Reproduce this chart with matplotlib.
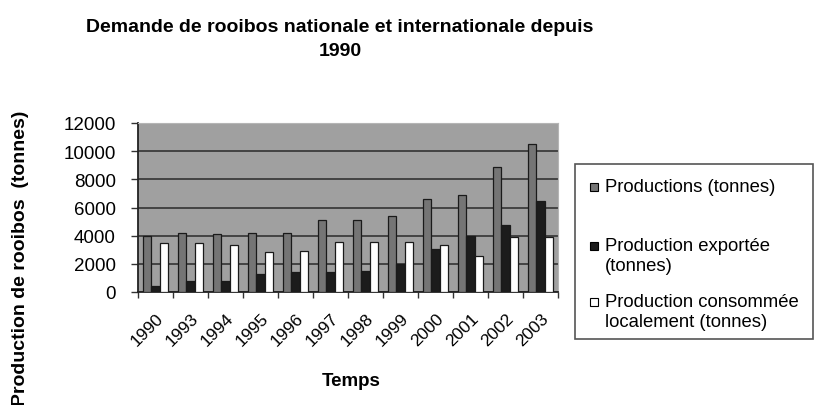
import numpy as np
import matplotlib.pyplot as plt
from matplotlib.patches import Rectangle

plt.rcParams['font.family'] = ['Liberation Sans', 'DejaVu Sans']

annees = ["1990", "1993", "1994", "1995", "1996", "1997", "1998", "1999",
          "2000", "2001", "2002", "2003"]
productions = [4000, 4170, 4130, 4170, 4170, 5110, 5110, 5420, 6600, 6890, 8850, 10510]
exportee = [450, 800, 800, 1280, 1440, 1440, 1510, 1990, 3050, 4000, 4760, 6480]
locale = [3480, 3480, 3360, 2820, 2940, 3570, 3570, 3570, 3360, 2580, 3930, 3930]

series_labels = ["Productions (tonnes)", "Production exportée\n(tonnes)",
                 "Production consommée\nlocalement (tonnes)"]
series_colors = ["#757575", "#1c1c1c", "white"]

W, H = 814, 406


def fx(px):
    return px / W


def fy(py):
    return 1 - py / H


fig = plt.figure(figsize=(8.14, 4.06), dpi=100)
ax = fig.add_axes([fx(138), fy(293), 420 / W, 169 / H])
ax.set_facecolor("#a0a0a0")

x = np.arange(len(annees))
w = 0.23
for i, vals in enumerate([productions, exportee, locale]):
    ax.bar(x + (i - 1) * w, vals, w, color=series_colors[i], edgecolor="#1a1a1a",
           linewidth=0.9, zorder=3)

ax.set_xlim(-0.5, len(annees) - 0.5)
ax.set_ylim(0, 12000)
ax.set_yticks(range(0, 12001, 2000))
ax.yaxis.grid(True, color="#333333", linewidth=1.2, zorder=1)
ax.set_axisbelow(True)
ax.yaxis.get_gridlines()[-1].set_visible(False)

ax.set_xticks(x)
ax.set_xticklabels(annees, rotation=45, ha="right", rotation_mode="anchor", fontsize=12.5)
ax.tick_params(axis="x", length=0, pad=13)
ax.set_xticks(np.arange(-0.5, len(annees)), minor=True)
ax.tick_params(axis="x", which="minor", length=4, width=1, color="#333333")
ax.tick_params(axis="y", labelsize=13.5, length=5, width=1, pad=11, color="#333333")

for s in ["top", "right"]:
    ax.spines[s].set_color("#b5b5b5")
for s in ["left", "bottom"]:
    ax.spines[s].set_color("#222222")
    ax.spines[s].set_linewidth(1.3)

fig.text(fx(351), fy(382), "Temps", fontsize=13.5, fontweight="bold",
         ha="center", va="center")
fig.text(fx(21), fy(258), "Production de rooibos  (tonnes)", rotation=90, fontsize=14,
         fontweight="bold", ha="center", va="center")

fig.text(fx(340), fy(27), "Demande de rooibos nationale et internationale depuis",
         fontsize=14, fontweight="bold", ha="center", va="center")
fig.text(fx(340), fy(52), "1990", fontsize=14, fontweight="bold", ha="center", va="center")

# legend box drawn by hand so the markers sit on the first text line
fig.patches.append(Rectangle((fx(575), fy(340)), fx(813) - fx(575), fy(165) - fy(340),
                             transform=fig.transFigure, facecolor="white",
                             edgecolor="#555555", linewidth=1.2))
rows = [188, 247, 303]
for lab, col, y in zip(series_labels, series_colors, rows):
    fig.patches.append(Rectangle((fx(590), fy(y + 4)), 8 / W, 8 / H,
                                 transform=fig.transFigure, facecolor=col,
                                 edgecolor="black", linewidth=0.8))
    fig.text(fx(605), fy(y - 9), lab, fontsize=13.3, ha="left", va="top",
             linespacing=1.25)

fig.savefig("out.png", dpi=100)
